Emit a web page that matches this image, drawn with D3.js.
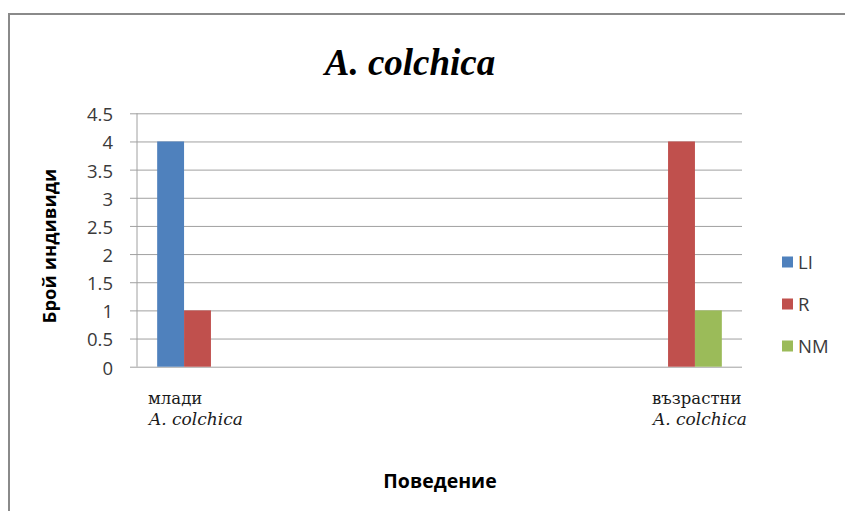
<!DOCTYPE html>
<html>
<head>
<meta charset="utf-8">
<script src="https://cdn.jsdelivr.net/npm/d3@7"></script>
<style>
  html, body { margin: 0; padding: 0; background: #fff; }
  svg { display: block; }
</style>
</head>
<body>
<svg id="chart" width="845" height="511"></svg>
<script>
// Categories on the x axis (five slots; only the first and last carry data)
const groups = ["млади", "", "", "", "възрастни"];
const groupSpecies = ["A. colchica", "", "", "", "A. colchica"];

// Behaviour series
const seriesNames = ["LI", "R", "NM"];
const seriesColors = ["#4F81BD", "#C0504D", "#9BBB59"];
const valuesLI = [4, null, null, null, 0];
const valuesR  = [1, null, null, null, 4];
const valuesNM = [0, null, null, null, 1];

// Y axis ticks
const yTicks = [0, 0.5, 1, 1.5, 2, 2.5, 3, 3.5, 4, 4.5];

const title = "A. colchica";
const yTitle = "Брой индивиди";
const xTitle = "Поведение";

const W = 845, H = 511;
const plot = { left: 137, right: 742, top: 113.3, bottom: 366.7 };

const svg = d3.select("#chart");

// outer frame (top and left edges)
svg.append("path")
  .attr("d", `M9,${H} L9,14 L${W},14`)
  .attr("fill", "none")
  .attr("stroke", "#8a8a8a")
  .attr("stroke-width", 2);

const x = d3.scaleBand()
  .domain(d3.range(groups.length))
  .range([plot.left, plot.right])
  .paddingInner(0).paddingOuter(0);

// gap width of 150% of a bar between groups
const groupW = x.bandwidth() * 3 / 4.5;
const xs = d3.scaleBand()
  .domain(seriesNames)
  .range([0, groupW])
  .padding(0);

const y = d3.scaleLinear()
  .domain([0, 4.5])
  .range([plot.bottom, plot.top]);

// gridlines + tick labels
const yAxis = d3.axisLeft(y)
  .tickValues(yTicks)
  .tickFormat(d3.format("~g"))
  .tickSize(-(plot.right - plot.left + 7))
  .tickSizeOuter(0)
  .tickPadding(17);

const gy = svg.append("g")
  .attr("transform", `translate(${plot.left - 7},0)`)
  .call(yAxis);
gy.select(".domain").remove();
gy.selectAll(".tick line").attr("stroke", "#a0a0a0").attr("stroke-width", 1);
gy.selectAll(".tick text")
  .attr("fill", "#3a3a3a")
  .attr("dy", "0.4em")
  .style("font-family", "'Open Sans', 'Liberation Sans', sans-serif")
  .style("font-size", "18.5px");

// vertical axis line
svg.append("line")
  .attr("x1", plot.left).attr("x2", plot.left)
  .attr("y1", plot.top).attr("y2", plot.bottom)
  .attr("stroke", "#a0a0a0");

// bars
const seriesValues = [valuesLI, valuesR, valuesNM];
const barData = [];
groups.forEach((g, i) => {
  seriesNames.forEach((s, j) => {
    const v = seriesValues[j][i];
    if (v != null) barData.push({ i, s, j, v });
  });
});

svg.append("g").selectAll("rect")
  .data(barData)
  .join("rect")
  .attr("x", d => x(d.i) + (x.bandwidth() - groupW) / 2 + xs(d.s))
  .attr("width", xs.bandwidth())
  .attr("y", d => y(d.v))
  .attr("height", d => y(0) - y(d.v))
  .attr("fill", d => seriesColors[d.j]);

// category labels (two lines: age group, species in italic)
const labelOffsets = [11, 0, 0, 0, 31];
const lab = svg.append("g")
  .style("font-family", "'DejaVu Serif', 'Liberation Serif', serif")
  .style("font-size", "16.5px")
  .attr("fill", "#1a1a1a");
groups.forEach((g, i) => {
  if (!g) return;
  const lx = x(i) + labelOffsets[i];
  lab.append("text").attr("x", lx).attr("y", 404).text(g);
  lab.append("text").attr("x", lx + 1).attr("y", 425)
    .style("font-style", "italic").style("font-size", "17px").text(groupSpecies[i]);
});

// chart title
svg.append("text")
  .attr("x", 410).attr("y", 75)
  .attr("text-anchor", "middle")
  .style("font-family", "'Liberation Serif', 'Times New Roman', serif")
  .style("font-weight", "bold")
  .style("font-style", "italic")
  .style("font-size", "37px")
  .attr("fill", "#000")
  .text(title);

// axis titles
svg.append("text")
  .attr("transform", `translate(56,${246}) rotate(-90)`)
  .attr("text-anchor", "middle")
  .style("font-family", "'Open Sans', 'Liberation Sans', sans-serif")
  .style("font-weight", "bold")
  .style("font-size", "18.5px")
  .attr("fill", "#000")
  .text(yTitle);

svg.append("text")
  .attr("x", 440).attr("y", 488)
  .attr("text-anchor", "middle")
  .style("font-family", "'Open Sans', 'Liberation Sans', sans-serif")
  .style("font-weight", "bold")
  .style("font-size", "19.5px")
  .attr("fill", "#000")
  .text(xTitle);

// legend
const legend = svg.append("g").attr("transform", "translate(782,0)");
const legendRowY = d3.scalePoint().domain(seriesNames).range([262, 346]);
seriesNames.forEach((s, j) => {
  const cy = legendRowY(s);
  legend.append("rect")
    .attr("x", 0).attr("y", cy - 5.5)
    .attr("width", 11).attr("height", 11)
    .attr("fill", seriesColors[j]);
  legend.append("text")
    .attr("x", 16).attr("y", cy + 7)
    .style("font-family", "'Open Sans', 'Liberation Sans', sans-serif")
    .style("font-size", "18.5px")
    .attr("fill", "#3a3a3a")
    .text(s);
});
</script>
</body>
</html>
